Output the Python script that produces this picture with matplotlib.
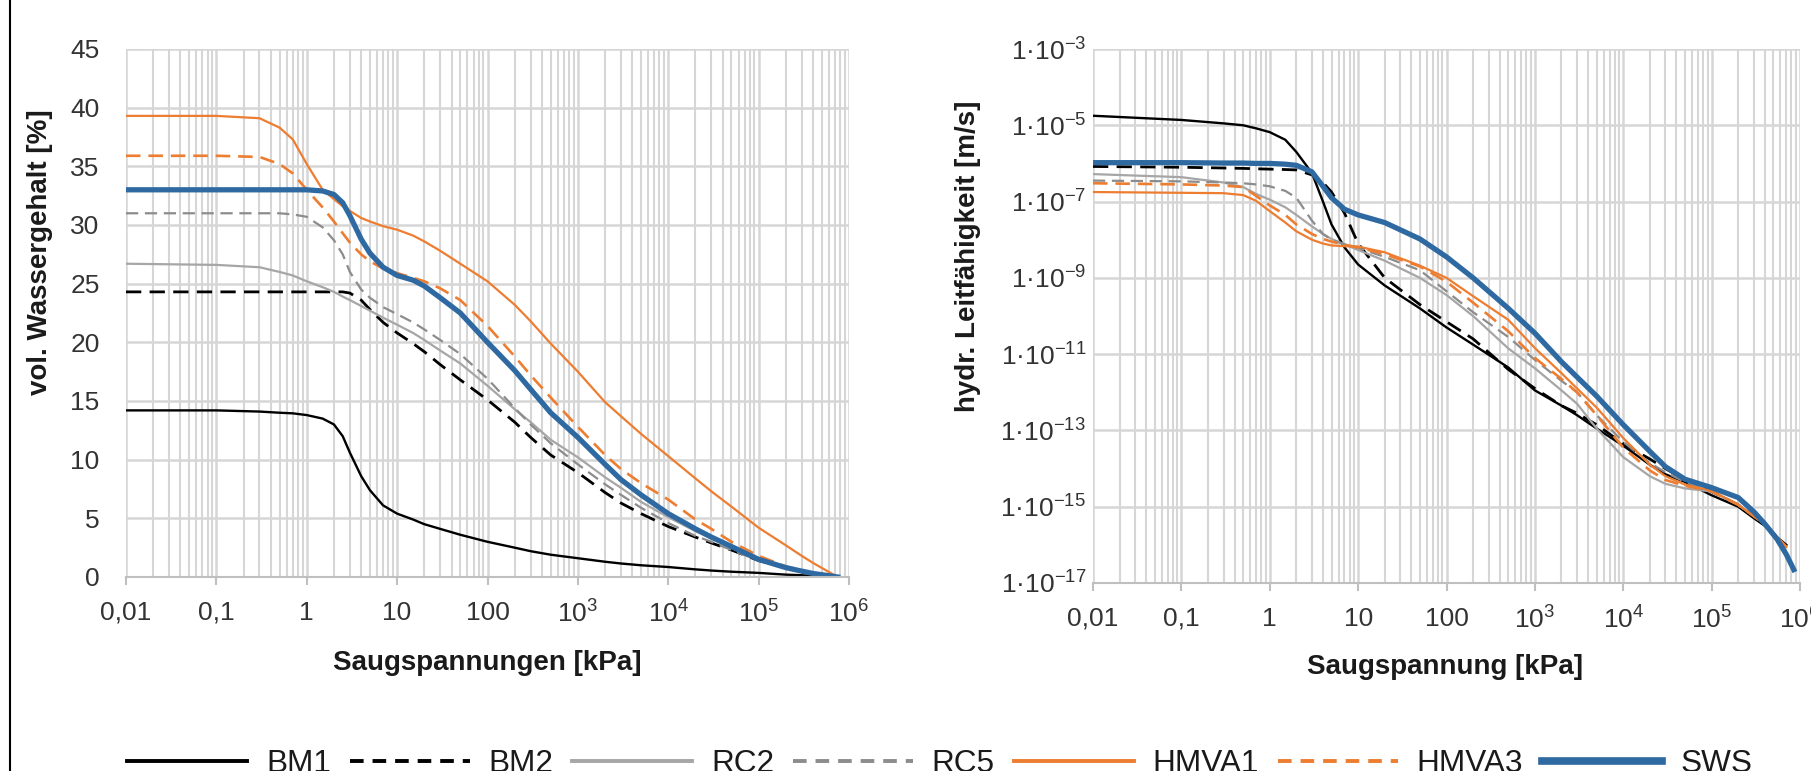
import numpy as np
import matplotlib.pyplot as plt
from matplotlib.ticker import LogLocator, FixedLocator, FixedFormatter, NullFormatter
from matplotlib.lines import Line2D

plt.rcParams['font.family'] = ['Liberation Sans', 'DejaVu Sans']
plt.rcParams['mathtext.fontset'] = 'custom'
plt.rcParams['mathtext.rm'] = 'Liberation Sans'
plt.rcParams['mathtext.it'] = 'Liberation Sans:italic'
plt.rcParams['mathtext.bf'] = 'Liberation Sans:bold'

# Wassergehalt (links) - Saugspannung in kPa
psi_wg = [0.01, 0.1, 0.3, 0.5, 0.7, 1, 1.5, 2, 2.5, 3, 4, 5, 7, 10,
          15, 20, 30, 50, 100, 200, 300, 500, 1e3, 2e3, 3e3, 5e3, 1e4, 2e4, 3e4, 5e4,
          1e5, 2e5, 3e5, 4e5, 7.5e5]
wg_bm1 = [14.2, 14.2, 14.1, 14.0, 13.95, 13.8, 13.5, 13.0, 12.0, 10.6, 8.6, 7.4, 6.1, 5.4,
          4.9, 4.5, 4.1, 3.6, 3.0, 2.5, 2.2, 1.9, 1.6, 1.3, 1.15, 1.0, 0.85, 0.65, 0.55, 0.45,
          0.35, 0.2, 0.15, 0.1, 0.0]
wg_bm2 = [24.3, 24.3, 24.3, 24.3, 24.3, 24.3, 24.3, 24.3, 24.3, 24.2, 23.6, 22.8, 21.7, 20.8,
          19.9, 19.2, 18.1, 16.8, 15.1, 13.2, 11.9, 10.4, 8.9, 7.2, 6.3, 5.4, 4.3, 3.4, 2.9, 2.3,
          1.4, 0.8, 0.5, 0.3, 0.0]
wg_rc2 = [26.7, 26.6, 26.4, 26.0, 25.7, 25.2, 24.7, 24.3, 23.9, 23.6, 23.1, 22.7, 22.1, 21.5,
          20.8, 20.2, 19.3, 18.2, 16.3, 14.3, 13.2, 11.7, 10.2, 8.5, 7.6, 6.4, 5.1, 3.9, 3.3, 2.6,
          1.5, 0.8, 0.5, 0.3, 0.0]
wg_rc5 = [31.0, 31.0, 31.0, 31.0, 30.9, 30.7, 29.8, 28.7, 27.5, 26.0, 24.5, 23.8, 23.0, 22.4,
          21.7, 21.1, 20.2, 19.0, 16.9, 14.4, 13.0, 11.4, 9.6, 7.9, 7.0, 5.9, 4.6, 3.5, 3.0, 2.3,
          1.4, 0.8, 0.5, 0.3, 0.0]
wg_hmva1 = [39.3, 39.3, 39.1, 38.3, 37.3, 35.2, 33.0, 32.2, 31.6, 31.2, 30.6, 30.3, 29.9, 29.6,
            29.1, 28.6, 27.8, 26.7, 25.2, 23.2, 21.8, 19.9, 17.5, 14.9, 13.7, 12.2, 10.3, 8.4, 7.3,
            6.0, 4.2, 2.7, 1.8, 1.2, 0.0]
wg_hmva3 = [35.9, 35.9, 35.8, 35.2, 34.4, 33.0, 31.5, 30.3, 29.3, 28.5, 27.5, 26.9, 26.3, 25.9,
            25.5, 25.2, 24.6, 23.6, 21.4, 18.8, 17.2, 15.3, 12.8, 10.4, 9.2, 8.0, 6.6, 4.9, 4.1,
            3.0, 1.8, 0.9, 0.55, 0.35, 0.0]
wg_sws = [33.0, 33.0, 33.0, 33.0, 33.0, 33.0, 32.9, 32.6, 31.9, 30.8, 28.8, 27.6, 26.4, 25.7,
          25.3, 24.8, 23.8, 22.5, 20.0, 17.6, 16.0, 14.0, 11.9, 9.6, 8.3, 7.0, 5.4, 4.1, 3.4, 2.6,
          1.5, 0.8, 0.5, 0.3, 0.0]

# hydr. Leitfaehigkeit (rechts), Exponent log10(k) in m/s
psi_k = [0.01, 0.1, 0.3, 0.5, 0.7, 1, 1.5, 2, 3, 4, 5, 7, 10, 20, 50, 100, 200, 500,
         1e3, 2e3, 3e3, 5e3, 1e4, 2e4, 3e4, 5e4, 1e5, 2e5, 3e5, 4e5, 5.5e5, 7e5, 8.5e5]
nan = np.nan
lk_bm1 = [-4.75, -4.86, -4.95, -5.0, -5.08, -5.18, -5.38, -5.7, -6.25, -7.0, -7.6, -8.2, -8.65,
          -9.2, -9.8, -10.3, -10.75, -11.35,
          -11.95, -12.35, -12.6, -12.95, -13.4, -13.9, -14.15, -14.35, -14.7, -15.0, -15.3,
          -15.5, -15.8, -16.0, nan]
lk_bm2 = [-6.08, -6.1, -6.12, -6.13, -6.14, -6.15, -6.16, -6.17, -6.3, -6.5, -6.75, -7.3, -8.1,
          -9.0, -9.7, -10.15, -10.6, -11.4,
          -11.9, -12.35, -12.55, -12.85, -13.35, -13.75, -14.0, -14.3, -14.6, -14.95, -15.25,
          -15.45, -15.8, -16.05, nan]
lk_rc2 = [-6.28, -6.36, -6.5, -6.62, -6.8, -6.95, -7.15, -7.35, -7.65, -7.85, -7.98, -8.12, -8.27,
          -8.55, -9.0, -9.45, -10.0, -10.85,
          -11.37, -11.95, -12.3, -12.95, -13.7, -14.2, -14.4, -14.52, -14.6, -14.95, -15.25,
          -15.45, -15.8, -16.05, nan]
lk_rc5 = [-6.45, -6.47, -6.5, -6.52, -6.55, -6.6, -6.72, -6.9, -7.5, -7.85, -8.0, -8.12, -8.22,
          -8.45, -8.8, -9.35, -9.9, -10.55,
          -11.15, -11.7, -12.0, -12.6, -13.3, -13.85, -14.1, -14.35, -14.6, -14.95, -15.25,
          -15.45, -15.8, -16.05, nan]
lk_hmva1 = [-6.75, -6.77, -6.78, -6.83, -6.98, -7.25, -7.55, -7.78, -8.0, -8.1, -8.15, -8.17,
            -8.18, -8.33, -8.68, -9.0, -9.48, -10.1,
            -10.84, -11.5, -11.9, -12.4, -13.2, -13.9, -14.2, -14.42, -14.58, -14.95, -15.25,
            -15.45, -15.8, -16.05, nan]
lk_hmva3 = [-6.52, -6.55, -6.58, -6.62, -6.85, -7.1, -7.35, -7.6, -7.85, -7.98, -8.05, -8.13,
            -8.2, -8.38, -8.7, -9.1, -9.65, -10.4,
            -11.1, -11.65, -12.0, -12.6, -13.45, -14.05, -14.3, -14.45, -14.6, -14.95, -15.25,
            -15.45, -15.8, -16.05, nan]
lk_sws = [-5.98, -5.98, -5.99, -5.99, -6.0, -6.0, -6.02, -6.05, -6.22, -6.6, -6.9, -7.2, -7.35,
          -7.55, -7.98, -8.45, -9.0, -9.8,
          -10.45, -11.2, -11.6, -12.1, -12.85, -13.55, -13.95, -14.28, -14.5, -14.76, -15.13,
          -15.45, -15.85, -16.25, -16.65]

names = ['BM1', 'BM2', 'RC2', 'RC5', 'HMVA1', 'HMVA3', 'SWS']
wg_data = [wg_bm1, wg_bm2, wg_rc2, wg_rc5, wg_hmva1, wg_hmva3, wg_sws]
lk_data = [lk_bm1, lk_bm2, lk_rc2, lk_rc5, lk_hmva1, lk_hmva3, lk_sws]

dash = (0, (5.5, 3))
styles = {
    'BM1': dict(color='black', lw=1.7, ls='-'),
    'BM2': dict(color='black', lw=2.0, ls=dash),
    'RC2': dict(color='#a6a6a6', lw=1.6, ls='-'),
    'RC5': dict(color='#8c8c8c', lw=1.6, ls=dash),
    'HMVA1': dict(color='#ed7d31', lw=1.6, ls='-'),
    'HMVA3': dict(color='#ed7d31', lw=1.9, ls=dash),
    'SWS': dict(color='#2e6aa1', lw=3.8, ls='-'),
}

xticks = [0.01, 0.1, 1, 10, 100, 1e3, 1e4, 1e5, 1e6]
xlabels = ['0,01', '0,1', '1', '10', '100', '10$^{3}$', '10$^{4}$', '10$^{5}$', '10$^{6}$']
txt = '#333333'
gridc = '#d6d6d6'

fig = plt.figure(figsize=(18.11, 7.71), dpi=100)
ax1 = fig.add_axes([126 / 1811, 1 - 577 / 771, 723 / 1811, 528 / 771])
ax2 = fig.add_axes([1093 / 1811, 1 - 583 / 771, 707 / 1811, 534 / 771])


def style_axis(ax, ypad):
    ax.set_xscale('log')
    ax.set_xlim(0.01, 1e6)
    ax.xaxis.set_major_locator(FixedLocator(xticks))
    ax.xaxis.set_major_formatter(FixedFormatter(xlabels))
    ax.xaxis.set_minor_locator(LogLocator(base=10, subs=np.arange(2, 10), numticks=50))
    ax.xaxis.set_minor_formatter(NullFormatter())
    ax.set_axisbelow(True)
    ax.grid(True, which='major', axis='both', color=gridc, lw=1.8)
    ax.grid(True, which='minor', axis='x', color=gridc, lw=1.5)
    for s in ['left', 'top', 'right']:
        ax.spines[s].set_visible(False)
    ax.spines['bottom'].set_color('#bfbfbf')
    ax.spines['bottom'].set_linewidth(1.5)
    ax.tick_params(axis='x', which='major', length=6, width=1.5, color='#bfbfbf',
                   pad=11, labelsize=19, labelcolor=txt)
    ax.tick_params(axis='x', which='minor', length=0)
    ax.tick_params(axis='y', which='both', length=0, pad=ypad, labelsize=19, labelcolor=txt)


# linkes Diagramm
for name, vals in zip(names, wg_data):
    ax1.plot(psi_wg, vals, **styles[name])
style_axis(ax1, 19)
ax1.set_ylim(0, 45)
ax1.set_yticks(np.arange(0, 50, 5))

# rechtes Diagramm
for name, vals in zip(names, lk_data):
    ax2.plot(psi_k, 10.0 ** np.array(vals), **styles[name])
style_axis(ax2, 5)
ax2.set_yscale('log')
ax2.set_ylim(1e-17, 1e-3)
kexp = [17, 15, 13, 11, 9, 7, 5, 3]
ax2.yaxis.set_major_locator(FixedLocator([10.0 ** -e for e in kexp]))
ax2.yaxis.set_major_formatter(FixedFormatter(['1·10$^{-%d}$' % e for e in kexp]))
ax2.yaxis.set_minor_locator(FixedLocator([]))

# Achsentitel
fig.text(0.0221, 0.673, 'vol. Wassergehalt [%]', rotation=90, ha='center', va='center',
         fontsize=20, fontweight='bold', color='#1a1a1a')
fig.text(0.5345, 0.667, 'hydr. Leitfähigkeit [m/s]', rotation=90, ha='center', va='center',
         fontsize=20, fontweight='bold', color='#1a1a1a')
fig.text(0.269, 0.140, 'Saugspannungen [kPa]', ha='center', va='center',
         fontsize=20, fontweight='bold', color='#1a1a1a')
fig.text(0.798, 0.135, 'Saugspannung [kPa]', ha='center', va='center',
         fontsize=20, fontweight='bold', color='#1a1a1a')

# Legende
handles = []
for name in names:
    st = dict(styles[name])
    st['lw'] = 5.5 if name == 'SWS' else 2.8
    if st['ls'] != '-':
        st['ls'] = (0, (3.5, 2.3))
    handles.append(Line2D([], [], **st))
fig.legend(handles, names, loc='center', bbox_to_anchor=(940 / 1811, 1 - 764 / 771), ncol=7,
           frameon=False, fontsize=22.7, handlelength=3.8, handletextpad=0.6,
           columnspacing=0.6, borderpad=0, borderaxespad=0, labelcolor='#1a1a1a')

# Rahmenlinie links
fig.add_artist(Line2D([0.0055, 0.0055], [0, 1], color='black', lw=1.5))

fig.savefig('out.png', dpi=100)
